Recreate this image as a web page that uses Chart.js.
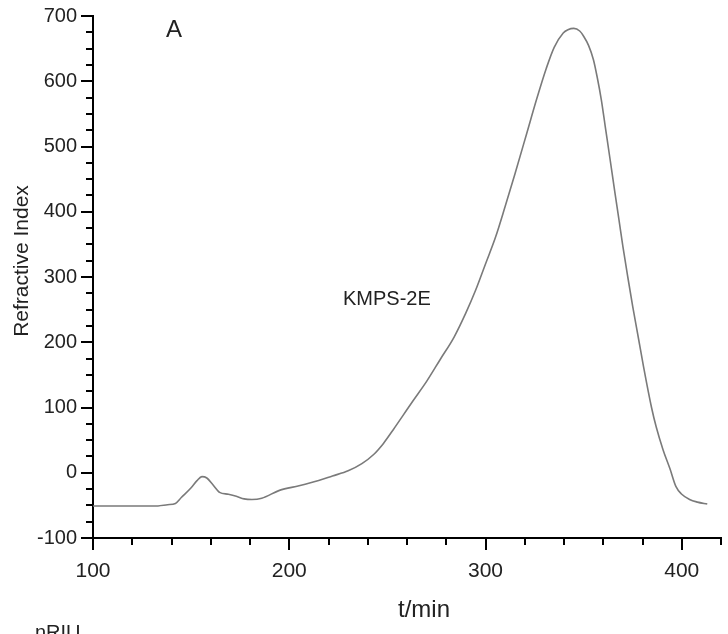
<!DOCTYPE html>
<html>
<head>
<meta charset="utf-8">
<title>KMPS-2E</title>
<script src="https://cdn.jsdelivr.net/npm/chart.js@4.4.1/dist/chart.umd.min.js"></script>
<style>
  html, body { margin: 0; padding: 0; background: #fff; }
  #wrap { width: 728px; height: 634px; overflow: hidden; }
</style>
</head>
<body>
<div id="wrap"><canvas id="riChart" width="728" height="634"></canvas></div>
<script>
// Dữ liệu: thời gian (phút) và chỉ số khúc xạ (nRIU)
var timeMin = [100, 120, 131, 138, 142, 145, 150, 153, 155.5, 158, 161, 164.5, 169, 173, 177, 181, 186, 195, 205, 215,
    222, 230, 237, 243, 248, 253, 258, 263, 270, 277, 284, 290, 295, 300, 305, 310, 315, 321, 326, 331,
    335, 339.6, 342, 345, 348, 350, 352.5, 355, 357, 359, 361, 363.4, 366, 368, 370, 372.5, 375, 378, 380.5, 384.6,
    387, 390.5, 394, 397, 400, 404, 408, 413];
var refractiveIndex = [-51, -51, -51, -49, -47, -38, -23, -12, -6, -8, -18, -30, -33, -36, -40, -41, -39, -27, -20, -12,
    -5, 3, 14, 28, 45, 66, 88, 110, 140, 174, 208, 245, 280, 320, 360, 408, 458, 520, 572, 620,
    652, 674, 679, 681, 677, 669, 655, 633, 605, 572, 531, 482, 428, 388, 347, 300, 255, 205, 163, 100,
    70, 35, 6, -21, -33, -41, -45, -48];

var xTickLabels = [100, 200, 300, 400];
var yTickLabels = [-100, 0, 100, 200, 300, 400, 500, 600, 700];

var FONT = '"Liberation Sans", Arial, sans-serif';
var TEXT_COLOR = '#222';

var points = timeMin.map(function (t, i) {
    return { x: t, y: refractiveIndex[i] };
});

// Bỏ phần đệm tự động để vùng vẽ đúng bằng layout.padding
function noAutoPadding(s) {
    s.paddingTop = 0;
    s.paddingBottom = 0;
    s.paddingLeft = 0;
    s.paddingRight = 0;
}

// Vẽ vạch chia, tiêu đề trục và chú thích
var decorPlugin = {
    id: 'decor',
    afterDraw: function (chart) {
        var ctx = chart.ctx;
        var xs = chart.scales.x, ys = chart.scales.y;
        var area = chart.chartArea;
        ctx.save();
        ctx.strokeStyle = '#000';
        ctx.lineWidth = 2;
        ctx.beginPath();
        xs.ticks.forEach(function (t) {
            var px = Math.round(xs.getPixelForValue(t.value));
            var len = xTickLabels.indexOf(t.value) >= 0 ? 12 : 7;
            ctx.moveTo(px, area.bottom);
            ctx.lineTo(px, area.bottom + len);
        });
        ys.ticks.forEach(function (t) {
            var py = Math.round(ys.getPixelForValue(t.value));
            var len = yTickLabels.indexOf(t.value) >= 0 ? 12 : 7;
            ctx.moveTo(area.left, py);
            ctx.lineTo(area.left - len, py);
        });
        ctx.stroke();

        ctx.fillStyle = TEXT_COLOR;
        ctx.textBaseline = 'alphabetic';
        ctx.textAlign = 'left';
        ctx.font = '24px ' + FONT;
        ctx.fillText('A', 166, 37);
        ctx.font = '20px ' + FONT;
        ctx.fillText('KMPS-2E', 343, 305);
        ctx.fillText('nRIU', 35, 639);

        ctx.textAlign = 'center';
        ctx.font = '24px ' + FONT;
        ctx.fillText('t/min', 424, 617);

        ctx.translate(28, 261);
        ctx.rotate(-Math.PI / 2);
        ctx.font = '21px ' + FONT;
        ctx.fillText('Refractive Index', 0, 0);
        ctx.restore();
    }
};

var riChart = new Chart(document.getElementById('riChart').getContext('2d'), {
    type: 'scatter',
    data: {
        datasets: [{
            label: 'KMPS-2E',
            data: points,
            showLine: true,
            borderColor: '#7a7a7a',
            borderWidth: 1.6,
            pointRadius: 0,
            cubicInterpolationMode: 'monotone',
            fill: false
        }]
    },
    options: {
        responsive: false,
        animation: false,
        layout: { padding: { top: 16, right: 7, left: 0, bottom: 0 } },
        plugins: {
            legend: { display: false },
            tooltip: { enabled: false }
        },
        scales: {
            x: {
                type: 'linear',
                min: 100,
                max: 420,
                afterFit: function (s) { s.height = 96; noAutoPadding(s); },
                grid: { display: true, drawOnChartArea: false, drawTicks: false },
                border: { display: true, color: '#000', width: 2 },
                ticks: {
                    stepSize: 20,
                    autoSkip: false,
                    maxRotation: 0,
                    padding: 21,
                    color: TEXT_COLOR,
                    font: { family: FONT, size: 21 },
                    callback: function (v) { return xTickLabels.indexOf(v) >= 0 ? String(v) : ''; }
                }
            },
            y: {
                min: -100,
                max: 700,
                afterFit: function (s) { s.width = 93; noAutoPadding(s); },
                grid: { display: true, drawOnChartArea: false, drawTicks: false },
                border: { display: true, color: '#000', width: 2 },
                ticks: {
                    stepSize: 25,
                    autoSkip: false,
                    padding: 16,
                    color: TEXT_COLOR,
                    font: { family: FONT, size: 20 },
                    callback: function (v) { return yTickLabels.indexOf(v) >= 0 ? String(v) : ''; }
                }
            }
        }
    },
    plugins: [decorPlugin]
});
</script>
</body>
</html>
